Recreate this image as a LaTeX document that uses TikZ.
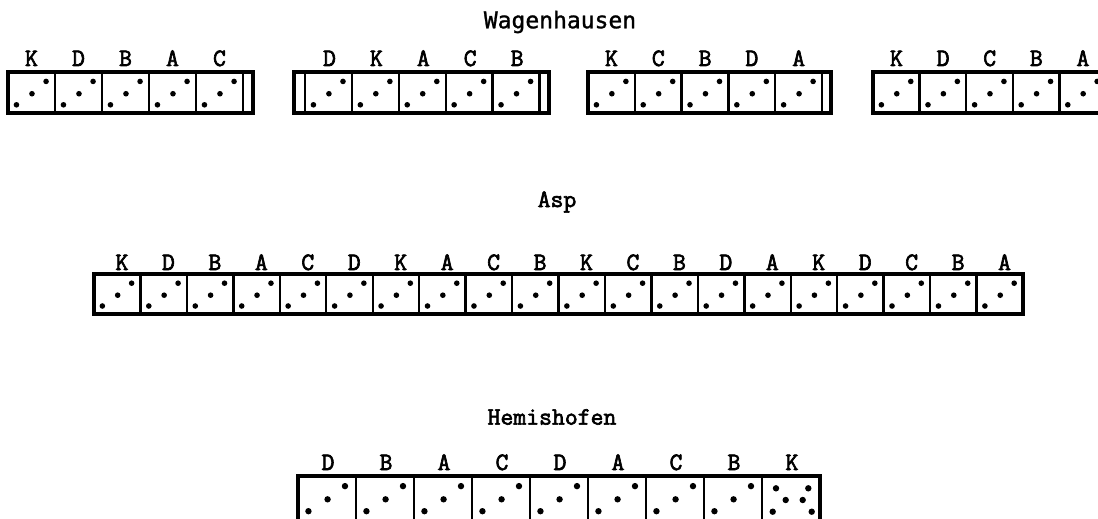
\documentclass[tikz,border=0pt]{standalone}
\usepackage{fontspec}
\newfontfamily\wagfont{DejaVu Sans Mono}[FakeBold=1.2]
\newfontfamily\courfont{Latin Modern Mono}[FakeBold=2.6]
\newcommand\dicethree[5]{% x, ytop, w, h, radius
  \fill ({#1+0.18*#3},{#2+0.80*#4}) circle[radius=#5];
  \fill ({#1+0.51*#3},{#2+0.53*#4}) circle[radius=#5];
  \fill ({#1+0.81*#3},{#2+0.23*#4}) circle[radius=#5];
}
\tikzset{
  frame/.style={draw=black,line width=3.2pt},
  divider/.style={draw=black,line width=2.4pt},
  lab/.style={font=\courfont\fontsize{25}{25}\selectfont,inner sep=0pt,anchor=base},
  title/.style={font=\courfont\fontsize{25}{25}\selectfont,inner sep=0pt},
}
\begin{document}
\begin{tikzpicture}[x=1pt,y=-1pt]
\useasboundingbox (0,0) rectangle (1098,519);
\clip (0,0) rectangle (1098,519);

% ---------- titles
\node[title,font=\wagfont\fontsize{23}{23}\selectfont] (tWag) at (560,22) {Wagenhausen};
\node[title] (tAsp) at (557,202) {Asp};
\node[title] (tHem) at (552,417) {Hemishofen};

% ---------- Wagenhausen group 1
\foreach \l [count=\i from 0] in {K,D,B,A,C}{
  \pgfmathsetmacro\xx{8+47*\i}
  \dicethree{\xx}{72}{47}{41}{2.8pt}
  \node[lab] (w1\i) at (\xx+23.5,66) {\l};
  \ifnum\i>0 \draw[divider] (\xx,72) -- (\xx,113); \fi
}
\draw[divider] (243,72) -- (243,113);
\draw[frame] (8,72) rectangle (253,113);

% ---------- Wagenhausen group 2
\foreach \l [count=\i from 0] in {D,K,A,C,B}{
  \pgfmathsetmacro\xx{305+46.9*\i}
  \dicethree{\xx}{72}{46.9}{41}{2.8pt}
  \node[lab] (w2\i) at (\xx+24.5,66) {\l};
  \draw[divider] (\xx,72) -- (\xx,113);
}
\draw[divider] (539.5,72) -- (539.5,113);
\draw[frame] (294,72) rectangle (549,113);

% ---------- Wagenhausen group 3
\foreach \l [count=\i from 0] in {K,C,B,D,A}{
  \pgfmathsetmacro\xx{588+46.8*\i}
  \dicethree{\xx}{72}{46.8}{41}{2.8pt}
  \node[lab] (w3\i) at (\xx+23.5,66) {\l};
  \ifnum\i>0 \draw[divider] (\xx,72) -- (\xx,113); \fi
}
\draw[divider] (822,72) -- (822,113);
\draw[frame] (588,72) rectangle (831,113);

% ---------- Wagenhausen group 4
\foreach \l [count=\i from 0] in {K,D,C,B,A}{
  \pgfmathsetmacro\xx{873+46.6*\i}
  \dicethree{\xx}{72}{46.6}{41}{2.8pt}
  \node[lab] (w4\i) at (\xx+23.5,66) {\l};
  \ifnum\i>0 \draw[divider] (\xx,72) -- (\xx,113); \fi
}
\draw[frame] (873,72) rectangle (1106,113);

% ---------- Asp
\foreach \l [count=\i from 0] in {K,D,B,A,C,D,K,A,C,B,K,C,B,D,A,K,D,C,B,A}{
  \pgfmathsetmacro\xx{94+46.45*\i}
  \dicethree{\xx}{274}{46.45}{40}{2.8pt}
  \node[lab] (a\i) at (\xx+28,270) {\l};
  \ifnum\i>0 \draw[divider] (\xx,274) -- (\xx,314); \fi
}
\draw[frame] (94,274) rectangle (1023,314);

% ---------- Hemishofen
\foreach \l [count=\i from 0] in {D,B,A,C,D,A,C,B}{
  \pgfmathsetmacro\xx{298+58*\i}
  \dicethree{\xx}{476}{58}{44}{3.2pt}
  \node[lab] (h\i) at (\xx+30,470) {\l};
  \ifnum\i>0 \draw[divider] (\xx,476) -- (\xx,530); \fi
}
\node[lab] (h8) at (792,470) {K};
\draw[divider] (762,476) -- (762,530);
\foreach \dx/\dy in {14/12.3,46.3/12.3,23.7/24,40.7/24,10.7/35.7,49.7/35.7}
  \fill (762+\dx,476+\dy) circle[radius=3.2pt];
\draw[frame] (298,476) rectangle (820,530);
\end{tikzpicture}
\end{document}
